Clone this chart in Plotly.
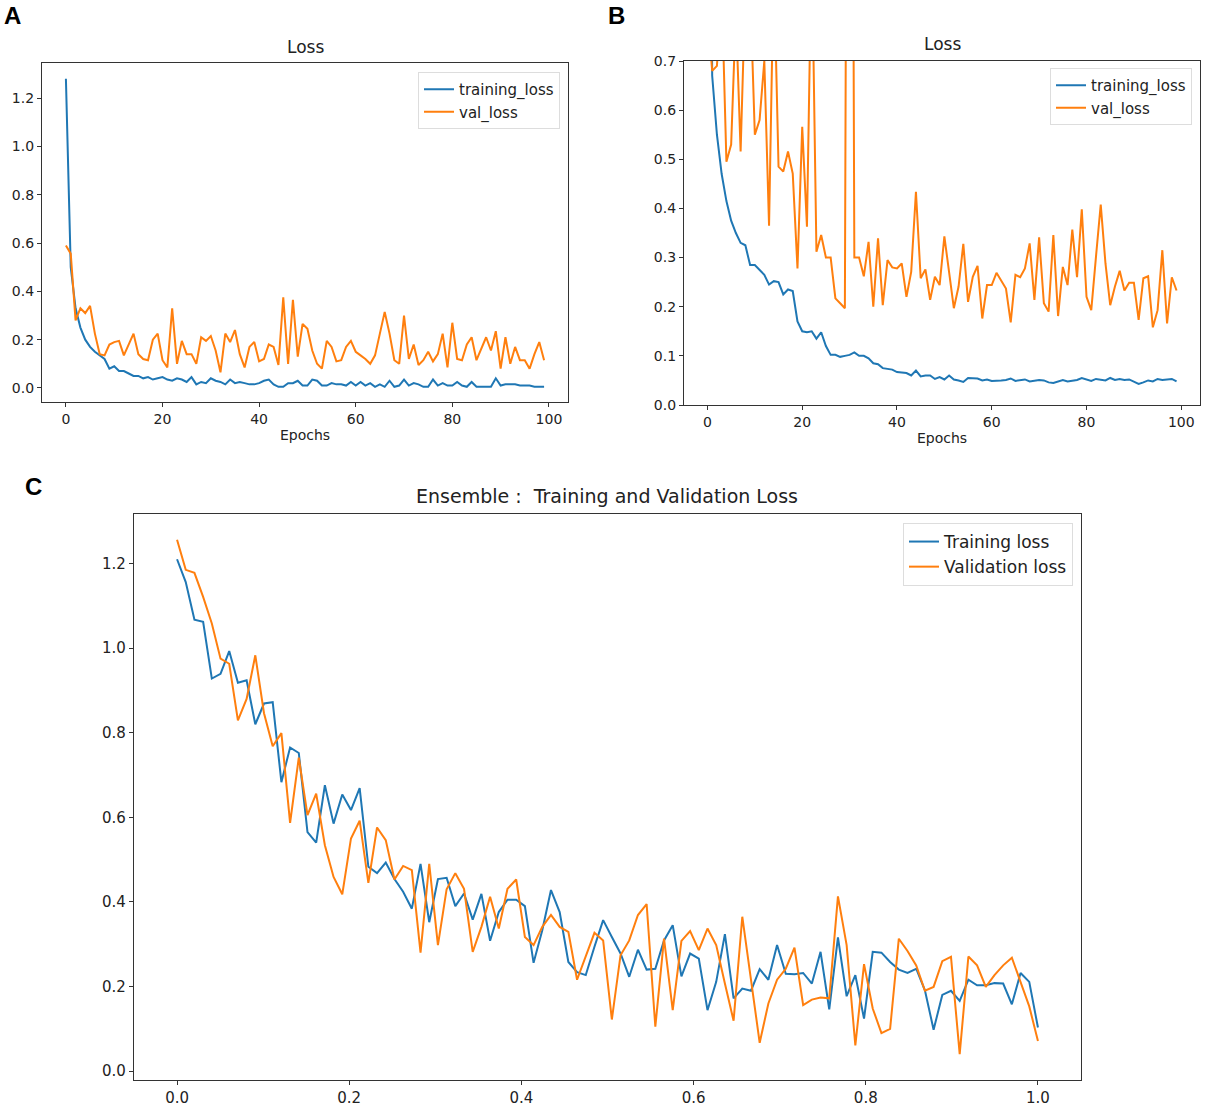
import numpy as np
import plotly.graph_objects as go

BLUE = "#1f77b4"
ORANGE = "#ff7f0e"
FONT = "DejaVu Sans"

# ---- panel A (epochs 0..99)
epochs = list(range(100))
a_train = [1.28, 0.50, 0.33, 0.25, 0.20, 0.17, 0.15, 0.135, 0.12, 0.08,
           0.09, 0.07, 0.07, 0.06, 0.05, 0.05, 0.04, 0.045, 0.035, 0.04,
           0.045, 0.035, 0.03, 0.04, 0.035, 0.025, 0.045, 0.015, 0.025, 0.02,
           0.04, 0.03, 0.025, 0.015, 0.035, 0.02, 0.025, 0.02, 0.015, 0.015,
           0.02, 0.03, 0.035, 0.015, 0.005, 0.005, 0.02, 0.02, 0.03, 0.01,
           0.01, 0.035, 0.03, 0.01, 0.01, 0.02, 0.015, 0.015, 0.01, 0.025,
           0.01, 0.025, 0.01, 0.02, 0.005, 0.015, 0.005, 0.03, 0.005, 0.01,
           0.035, 0.01, 0.02, 0.015, 0.005, 0.005, 0.035, 0.01, 0.02, 0.01,
           0.01, 0.025, 0.01, 0.005, 0.025, 0.005, 0.005, 0.005, 0.005, 0.04,
           0.01, 0.015, 0.015, 0.015, 0.01, 0.01, 0.01, 0.005, 0.005, 0.005]
a_val = [0.59, 0.556, 0.28, 0.33, 0.31, 0.34, 0.225, 0.14, 0.135, 0.18,
         0.19, 0.195, 0.135, 0.18, 0.225, 0.14, 0.12, 0.115, 0.2, 0.225,
         0.115, 0.085, 0.33, 0.1, 0.195, 0.14, 0.14, 0.1, 0.21, 0.195,
         0.215, 0.155, 0.065, 0.225, 0.19, 0.24, 0.14, 0.085, 0.17, 0.19,
         0.11, 0.12, 0.18, 0.17, 0.095, 0.375, 0.1, 0.365, 0.13, 0.265,
         0.245, 0.155, 0.1, 0.08, 0.195, 0.17, 0.11, 0.115, 0.17, 0.195,
         0.15, 0.135, 0.12, 0.1, 0.135, 0.225, 0.315, 0.225, 0.115, 0.1,
         0.3, 0.12, 0.18, 0.095, 0.115, 0.15, 0.11, 0.14, 0.225, 0.085,
         0.27, 0.12, 0.115, 0.18, 0.21, 0.115, 0.165, 0.21, 0.155, 0.235,
         0.08, 0.21, 0.1, 0.17, 0.115, 0.115, 0.08, 0.14, 0.19, 0.115]

# ---- panel B (y axis cut at 0.7)
b_train = [2.0, 0.67, 0.55, 0.47, 0.415, 0.375, 0.35, 0.33, 0.325, 0.285,
           0.285, 0.275, 0.265, 0.245, 0.252, 0.25, 0.225, 0.235, 0.232, 0.17,
           0.15, 0.148, 0.15, 0.135, 0.148, 0.12, 0.102, 0.102, 0.098, 0.1,
           0.102, 0.107, 0.1, 0.1, 0.095, 0.085, 0.083, 0.075, 0.073, 0.072,
           0.067, 0.066, 0.065, 0.06, 0.07, 0.058, 0.06, 0.06, 0.053, 0.057,
           0.052, 0.06, 0.052, 0.05, 0.047, 0.055, 0.055, 0.054, 0.05, 0.052,
           0.049, 0.049, 0.05, 0.051, 0.054, 0.049, 0.05, 0.052, 0.048, 0.049,
           0.051, 0.05, 0.046, 0.045, 0.048, 0.051, 0.048, 0.05, 0.051, 0.055,
           0.052, 0.049, 0.053, 0.052, 0.05, 0.055, 0.051, 0.053, 0.051, 0.052,
           0.047, 0.043, 0.046, 0.05, 0.048, 0.053, 0.051, 0.052, 0.053, 0.048]
b_val = [0.8, 0.68, 0.69, 0.85, 0.495, 0.53, 0.8, 0.516, 0.85, 0.85,
         0.55, 0.58, 0.70, 0.365, 0.9, 0.485, 0.475, 0.516, 0.471, 0.278,
         0.566, 0.363, 0.95, 0.312, 0.346, 0.30, 0.30, 0.217, 0.207, 0.197,
         3.0, 0.30, 0.30, 0.262, 0.332, 0.20, 0.339, 0.203, 0.295, 0.28,
         0.278, 0.288, 0.22, 0.271, 0.434, 0.258, 0.276, 0.214, 0.261, 0.244,
         0.343, 0.275, 0.197, 0.241, 0.328, 0.21, 0.261, 0.283, 0.176, 0.244,
         0.244, 0.269, 0.254, 0.237, 0.168, 0.265, 0.26, 0.278, 0.329, 0.214,
         0.341, 0.207, 0.19, 0.346, 0.181, 0.281, 0.244, 0.357, 0.26, 0.398,
         0.22, 0.193, 0.302, 0.408, 0.288, 0.203, 0.241, 0.273, 0.233, 0.249,
         0.249, 0.173, 0.258, 0.262, 0.158, 0.193, 0.315, 0.166, 0.26, 0.233]

# ---- panel C (ensemble, x scaled 0..1)
c_x = np.linspace(0, 1, 100)
c_train = [1.21, 1.156, 1.067, 1.062, 0.928, 0.939, 0.993, 0.918, 0.924, 0.820,
           0.869, 0.872, 0.683, 0.765, 0.752, 0.565, 0.540, 0.676, 0.585, 0.654,
           0.617, 0.669, 0.483, 0.468, 0.493, 0.454, 0.424, 0.384, 0.490, 0.352,
           0.454, 0.457, 0.390, 0.420, 0.358, 0.419, 0.308, 0.376, 0.405, 0.405,
           0.390, 0.256, 0.333, 0.428, 0.376, 0.258, 0.234, 0.227, 0.294, 0.357,
           0.317, 0.278, 0.223, 0.287, 0.240, 0.242, 0.309, 0.345, 0.224, 0.278,
           0.266, 0.144, 0.211, 0.324, 0.172, 0.195, 0.190, 0.241, 0.216, 0.298,
           0.230, 0.229, 0.232, 0.207, 0.282, 0.146, 0.316, 0.177, 0.227, 0.124,
           0.282, 0.280, 0.258, 0.240, 0.232, 0.242, 0.191, 0.098, 0.180, 0.190,
           0.166, 0.216, 0.203, 0.203, 0.208, 0.207, 0.158, 0.232, 0.211, 0.103]
c_val = [1.256, 1.185, 1.178, 1.121, 1.058, 0.975, 0.963, 0.829, 0.880, 0.983,
         0.846, 0.768, 0.799, 0.587, 0.741, 0.605, 0.656, 0.534, 0.459, 0.418,
         0.550, 0.592, 0.445, 0.576, 0.546, 0.453, 0.485, 0.475, 0.280, 0.490,
         0.298, 0.430, 0.468, 0.431, 0.282, 0.341, 0.412, 0.337, 0.431, 0.453,
         0.317, 0.298, 0.341, 0.369, 0.341, 0.329, 0.216, 0.274, 0.327, 0.309,
         0.122, 0.274, 0.309, 0.369, 0.395, 0.105, 0.313, 0.144, 0.308, 0.331,
         0.286, 0.337, 0.298, 0.207, 0.119, 0.365, 0.219, 0.067, 0.160, 0.216,
         0.242, 0.292, 0.156, 0.169, 0.174, 0.172, 0.413, 0.298, 0.061, 0.253,
         0.148, 0.090, 0.100, 0.313, 0.284, 0.250, 0.190, 0.199, 0.260, 0.270,
         0.040, 0.271, 0.250, 0.199, 0.227, 0.250, 0.268, 0.211, 0.153, 0.071]

W, H = 1207, 1108


def px(x0, x1):
    return [x0 / W, x1 / W]


def py(top, bottom):
    return [1 - bottom / H, 1 - top / H]


def label(text, x, y, size, family=FONT, color="#222"):
    return dict(text=text, x=x / W, y=1 - y / H, xref="paper", yref="paper",
                xanchor="center", yanchor="middle", showarrow=False,
                font=dict(family=family, size=size, color=color))


fig = go.Figure()

fig.add_trace(go.Scatter(x=epochs, y=a_train, name="training_loss", mode="lines",
                         line=dict(color=BLUE, width=2), xaxis="x", yaxis="y", legend="legend"))
fig.add_trace(go.Scatter(x=epochs, y=a_val, name="val_loss", mode="lines",
                         line=dict(color=ORANGE, width=2), xaxis="x", yaxis="y", legend="legend"))
fig.add_trace(go.Scatter(x=epochs, y=b_train, name="training_loss", mode="lines",
                         line=dict(color=BLUE, width=2), xaxis="x2", yaxis="y2", legend="legend2"))
fig.add_trace(go.Scatter(x=epochs, y=b_val, name="val_loss", mode="lines",
                         line=dict(color=ORANGE, width=2), xaxis="x2", yaxis="y2", legend="legend2"))
fig.add_trace(go.Scatter(x=c_x, y=c_train, name="Training loss", mode="lines",
                         line=dict(color=BLUE, width=2), xaxis="x3", yaxis="y3", legend="legend3"))
fig.add_trace(go.Scatter(x=c_x, y=c_val, name="Validation loss", mode="lines",
                         line=dict(color=ORANGE, width=2), xaxis="x3", yaxis="y3", legend="legend3"))

axis_common = dict(showline=True, mirror=True, linecolor="#333", linewidth=1.2,
                   ticks="outside", ticklen=4, tickcolor="#333", showgrid=False,
                   zeroline=False, automargin=False)
small = dict(family=FONT, size=14, color="#222")
big = dict(family=FONT, size=15, color="#222")

legend_common = dict(bgcolor="rgba(255,255,255,0.8)", bordercolor="#dddddd", borderwidth=1,
                     xanchor="right", yanchor="top", tracegroupgap=0)

fig.update_layout(
    width=W, height=H, margin=dict(l=0, r=0, t=0, b=0, autoexpand=False),
    plot_bgcolor="white", paper_bgcolor="white",
    font=dict(family=FONT, color="#222"),
    xaxis=dict(domain=px(42, 568), range=[-4.95, 103.95], tickvals=[0, 20, 40, 60, 80, 100],
               tickfont=small, anchor="y", **axis_common,
               title=dict(text="Epochs", font=small, standoff=4)),
    yaxis=dict(domain=py(63, 402), range=[-0.058, 1.345], tickvals=[0, 0.2, 0.4, 0.6, 0.8, 1.0, 1.2],
               tickformat=".1f", tickfont=small, anchor="x", **axis_common),
    xaxis2=dict(domain=px(684, 1200), range=[-4.95, 103.95], tickvals=[0, 20, 40, 60, 80, 100],
                tickfont=small, anchor="y2", **axis_common,
                title=dict(text="Epochs", font=small, standoff=4)),
    yaxis2=dict(domain=py(61, 405), range=[0, 0.7], tickvals=[0, 0.1, 0.2, 0.3, 0.4, 0.5, 0.6, 0.7],
                tickformat=".1f", tickfont=small, anchor="x2", **axis_common),
    xaxis3=dict(domain=px(134, 1081), range=[-0.05, 1.05], tickvals=[0, 0.2, 0.4, 0.6, 0.8, 1.0],
                tickformat=".1f", tickfont=big, anchor="y3", **axis_common),
    yaxis3=dict(domain=py(514, 1080), range=[-0.021, 1.317], tickvals=[0, 0.2, 0.4, 0.6, 0.8, 1.0, 1.2],
                tickformat=".1f", tickfont=big, anchor="x3", **axis_common),
    legend=dict(x=560 / W, y=1 - 72 / H, font=dict(family=FONT, size=15, color="#222"),
                **legend_common),
    legend2=dict(x=1192 / W, y=1 - 68 / H, font=dict(family=FONT, size=15, color="#222"),
                 **legend_common),
    legend3=dict(x=1073 / W, y=1 - 523 / H, font=dict(family=FONT, size=17, color="#222"),
                 **legend_common),
    annotations=[
        label("Loss", 305, 47, 17),
        label("Loss", 942, 44, 17),
        label("Ensemble :  Training and Validation Loss", 607, 496, 19),
        label("<b>A</b>", 12, 16, 24, "Liberation Sans", "black"),
        label("<b>B</b>", 617, 16, 24, "Liberation Sans", "black"),
        label("<b>C</b>", 33, 486, 24, "Liberation Sans", "black"),
    ],
)

# drop the default page margin so the figure sits at the window's top-left corner
fig.write_html("out.html", config={"displayModeBar": False},
               post_script="document.body.style.margin='0';document.body.style.overflow='hidden';")
